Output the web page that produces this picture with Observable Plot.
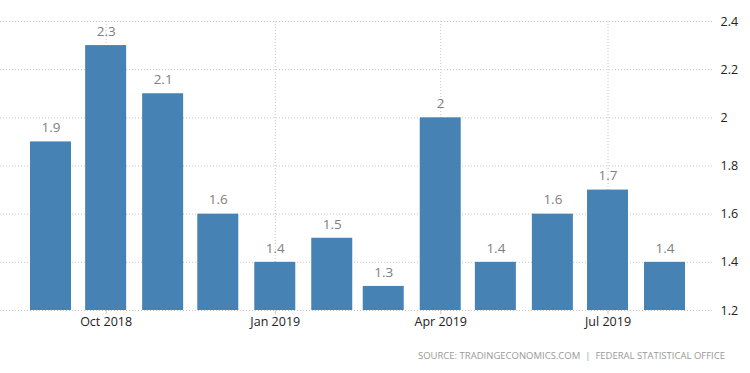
<!DOCTYPE html>
<html>
<head>
<meta charset="utf-8">
<script src="https://cdn.jsdelivr.net/npm/d3@7"></script>
<script src="https://cdn.jsdelivr.net/npm/@observablehq/plot@0.6"></script>
<style>
  html, body { margin: 0; padding: 0; background: #fff; }
  #wrap { position: relative; width: 750px; height: 373px; overflow: hidden; }
  #caption { position: absolute; right: 25px; top: 349px; font-family: "Open Sans", sans-serif; font-size: 9.5px; letter-spacing: 0px; color: #999; white-space: pre; }
</style>
</head>
<body>
<div id="wrap"><div id="caption">SOURCE: TRADINGECONOMICS.COM  |  FEDERAL STATISTICAL OFFICE</div></div>
<script>
const months = ["2018-09-01","2018-10-01","2018-11-01","2018-12-01","2019-01-01","2019-02-01","2019-03-01","2019-04-01","2019-05-01","2019-06-01","2019-07-01","2019-08-01"];
const values = [1.9, 2.3, 2.1, 1.6, 1.4, 1.5, 1.3, 2, 1.4, 1.6, 1.7, 1.4];
const yTicks = [1.2, 1.4, 1.6, 1.8, 2, 2.2, 2.4];
const xTicks = ["2018-10-01","2019-01-01","2019-04-01","2019-07-01"];

const data = months.map((m, i) => ({date: new Date(m + "T00:00:00Z"), value: values[i]}));
const baseline = yTicks[0];
const halfWidth = 11.15 * 24 * 3600 * 1000;

const chart = Plot.plot({
  width: 750,
  height: 373,
  marginTop: 21,
  marginBottom: 63,
  marginLeft: 0,
  marginRight: 38,
  style: {fontFamily: "'Open Sans', sans-serif", fontSize: "12px", background: "#fff"},
  x: {type: "utc", domain: [data[0].date, data[data.length - 1].date], range: [50.5, 664.5]},
  y: {domain: [yTicks[0], yTicks[yTicks.length - 1]]},
  marks: [
    Plot.gridY(yTicks, {stroke: "#c8c8c8", strokeOpacity: 1, strokeDasharray: "1,2"}),
    Plot.gridX(xTicks.map(d => new Date(d + "T00:00:00Z")), {stroke: "#c8c8c8", strokeOpacity: 1, strokeDasharray: "1,2"}),
    Plot.rectY(data, {
      x1: d => new Date(+d.date - halfWidth),
      x2: d => new Date(+d.date + halfWidth),
      y1: baseline,
      y2: "value",
      fill: "#4682b4"
    }),
    Plot.text(data, {x: "date", y: "value", text: d => String(d.value), dy: -14, fill: "#808080", fontSize: 13.5}),
    Plot.axisX(xTicks.map(d => new Date(d + "T00:00:00Z")), {tickFormat: d3.utcFormat("%b %Y"), tickSize: 4, tickPadding: 3, stroke: "#c8c8c8", fill: "#222", fontSize: 12.5, label: null}),
    Plot.axisY(yTicks, {anchor: "right", tickSize: 0, tickPadding: 8, fill: "#222", fontSize: 12.5, label: null, tickFormat: d => String(d)})
  ]
});
document.getElementById("wrap").prepend(chart);
</script>
</body>
</html>
